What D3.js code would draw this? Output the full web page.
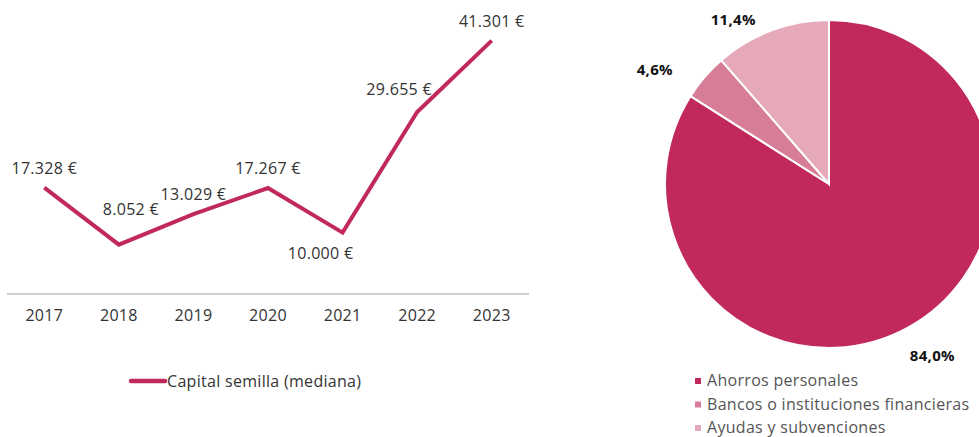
<!DOCTYPE html>
<html><head><meta charset="utf-8">
<script src="https://cdn.jsdelivr.net/npm/d3@7"></script>
<style>
body{margin:0;background:#fff;overflow:hidden}
text{font-family:"Open Sans",sans-serif;letter-spacing:0.3px}
</style></head><body>
<svg id="c" width="979" height="437"></svg>
<script>
const years = ["2017","2018","2019","2020","2021","2022","2023"];
const capital = [17328, 8052, 13029, 17267, 10000, 29655, 41301];
const capitalLabels = ["17.328 €","8.052 €","13.029 €","17.267 €","10.000 €","29.655 €","41.301 €"];
const lineSeriesName = "Capital semilla (mediana)";

const pieCategories = ["Ahorros personales","Bancos o instituciones financieras","Ayudas y subvenciones"];
const pieValues = [84.0, 4.6, 11.4];
const pieLabels = ["84,0%","4,6%","11,4%"];

const mainColor = "#c0295a";
const pieColors = ["#c0295a","#d77d97","#e5a9ba"];

const svg = d3.select("#c");
const FS = 16;

// ---- line chart ----
const x = d3.scaleBand().domain(years).range([7, 529]).padding(0);
const y = d3.scaleLinear().domain([0, 41301]).range([294, 40.6]);

svg.append("line").attr("x1",7).attr("x2",529).attr("y1",294).attr("y2",294)
  .attr("stroke","#bfbfbf").attr("stroke-width",1.5);

const xAxis = svg.append("g").attr("transform","translate(0,294)")
  .call(d3.axisBottom(x).tickSize(0).tickPadding(16));
xAxis.select(".domain").remove();
xAxis.selectAll("text").attr("font-size",FS).attr("fill","#333").attr("font-family","'Open Sans',sans-serif");

const line = d3.line().x((d,i)=>x(years[i])+x.bandwidth()/2).y(d=>y(d));
svg.append("path").datum(capital).attr("d",line).attr("fill","none")
  .attr("stroke",mainColor).attr("stroke-width",4).attr("stroke-linejoin","miter");

// label offsets (layout, not data)
const off = {"2017":[0,-14],"2018":[12,-30],"2019":[0,-14],"2020":[0,-14],"2021":[-22,26],"2022":[-18,-17],"2023":[0,-14]};
svg.append("g").selectAll("text").data(capital).join("text")
  .attr("x",(d,i)=>x(years[i])+x.bandwidth()/2+off[years[i]][0])
  .attr("y",(d,i)=>y(d)+off[years[i]][1])
  .attr("text-anchor","middle").attr("font-size",FS).attr("fill","#333")
  .text((d,i)=>capitalLabels[i]);

// legend line
svg.append("line").attr("x1",131).attr("x2",165).attr("y1",381).attr("y2",381)
  .attr("stroke",mainColor).attr("stroke-width",4.5).attr("stroke-linecap","round");
svg.append("text").attr("x",167).attr("y",387).attr("font-size",FS).attr("fill","#333").text(lineSeriesName);

// ---- pie ----
const cx = 829, cy = 184, r = 164;
const pie = d3.pie().sort(null).value(d=>d);
const arcs = pie(pieValues);
const arc = d3.arc().innerRadius(0).outerRadius(r);
const g = svg.append("g").attr("transform",`translate(${cx},${cy})`);
g.selectAll("path").data(arcs).join("path").attr("d",arc)
  .attr("fill",(d,i)=>pieColors[i]).attr("stroke","#fff").attr("stroke-width",2);

const labelArc = d3.arc().innerRadius(r+38).outerRadius(r+38);
const loff = [[6,-5],[-21,18],[-25,25]];
g.selectAll("text").data(arcs).join("text")
  .attr("x",(d,i)=>labelArc.centroid(d)[0]+loff[i][0])
  .attr("y",(d,i)=>labelArc.centroid(d)[1]+loff[i][1]+5)
  .attr("text-anchor","middle").attr("font-size",15).attr("font-weight",700).attr("fill","#111")
  .text((d,i)=>pieLabels[i]);

// pie legend
const lg = svg.append("g").selectAll("g").data(pieCategories).join("g")
  .attr("transform",(d,i)=>`translate(695,${378+i*23.5})`);
lg.append("rect").attr("width",6).attr("height",6).attr("fill",(d,i)=>pieColors[i]);
lg.append("text").attr("x",12).attr("y",8).attr("font-size",FS).attr("fill","#555").text(d=>d);
</script></body></html>
